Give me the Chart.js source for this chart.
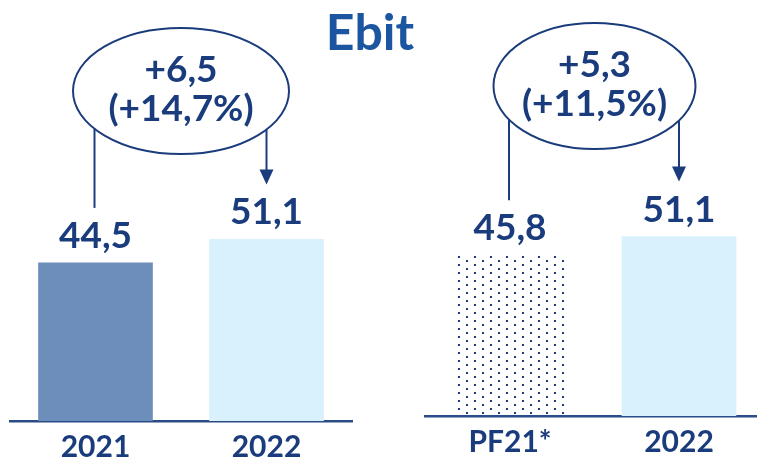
<!DOCTYPE html>
<html>
<head>
<meta charset="utf-8">
<script src="https://cdn.jsdelivr.net/npm/chart.js@4.4.0/dist/chart.umd.min.js"></script>
<style>
html, body { margin: 0; padding: 0; background: #fff; overflow: hidden; width: 757px; height: 461px; }
#wrap { position: relative; width: 757px; height: 461px; overflow: hidden; }
#title { position: absolute; left: 0; top: 1px; width: 740px; text-align: center; font: bold 50px Lato; color: #1c56a0; }
#left { position: absolute; left: 0; top: 0; }
#right { position: absolute; left: 378px; top: 0; }
</style>
</head>
<body>
<div id="wrap">
  <canvas id="left" width="378" height="461"></canvas>
  <canvas id="right" width="392" height="456"></canvas>
  <div id="title">Ebit</div>
</div>
<script>
// data
const leftLabels = ['2021', '2022']
const leftValues = [44.5, 51.1]
const leftDelta = ['+6,5', '(+14,7%)']
const rightLabels = ['PF21*', '2022']
const rightValues = [45.8, 51.1]
const rightDelta = ['+5,3', '(+11,5%)']

const navy = '#1b3c7c'
const steel = '#6d8dba'
const light = '#d9f0fd'

const fmt = v => v.toFixed(1).replace('.', ',')

// value labels + ellipse with the change
const bubble = {
    id: 'bubble',
    afterDatasetsDraw(chart, args, opts) {
        const ctx = chart.ctx
        const bars = chart.getDatasetMeta(0).data
        const values = chart.data.datasets[0].data
        ctx.save()
        ctx.fillStyle = navy
        ctx.strokeStyle = navy
        ctx.textAlign = 'center'
        ctx.textBaseline = 'middle'
        ctx.font = 'bold 37px Lato'
        bars.forEach((bar, i) => {
            ctx.fillText(fmt(values[i]), bar.x, bar.y - 27)
        })

        const a = bars[0], b = bars[1]
        const cx = (a.x + b.x) / 2
        const cy = opts.cy, rx = opts.rx, ry = 63
        ctx.lineWidth = 2
        ctx.beginPath()
        ctx.ellipse(cx, cy, rx, ry, 0, 0, Math.PI * 2)
        ctx.stroke()

        ctx.fillText(opts.text[0], cx, cy - 21)
        ctx.fillText(opts.text[1], cx, cy + 18)

        const edge = x => cy + ry * Math.sqrt(Math.max(0, 1 - ((x - cx) / rx) ** 2))
        const x1 = a.x - 1
        ctx.beginPath()
        ctx.moveTo(x1, edge(x1))
        ctx.lineTo(x1, a.y - 55)
        ctx.stroke()

        const x2 = b.x
        const tip = b.y - 55
        ctx.beginPath()
        ctx.moveTo(x2, edge(x2))
        ctx.lineTo(x2, tip - 12)
        ctx.stroke()
        ctx.beginPath()
        ctx.moveTo(x2 - 7, tip - 15)
        ctx.lineTo(x2 + 7, tip - 15)
        ctx.lineTo(x2, tip)
        ctx.closePath()
        ctx.fill()
        ctx.restore()
    }
}

function makeOptions(pad, bubbleOpts) {
    return {
        responsive: false,
        animation: false,
        layout: { padding: pad },
        plugins: {
            legend: { display: false },
            tooltip: { enabled: false },
            bubble: bubbleOpts
        },
        scales: {
            x: {
                grid: { display: false, drawTicks: false },
                border: { display: true, color: '#2b4a88', width: 2.5 },
                ticks: { color: navy, font: { family: 'Lato', size: 30, weight: 'bold' }, padding: 8 },
                afterFit: s => { s.height = 40 }
            },
            y: { display: false, min: 0, max: 118.5 }
        }
    }
}

new Chart(document.getElementById('left').getContext('2d'), {
    type: 'bar',
    data: {
        labels: leftLabels,
        datasets: [{
            data: leftValues,
            backgroundColor: [steel, light],
            barThickness: 114
        }]
    },
    options: makeOptions({ left: 10, right: 26, top: 0 }, { cy: 91, rx: 108, text: leftDelta }),
    plugins: [bubble]
})

const rctx = document.getElementById('right').getContext('2d')
const tile = document.createElement('canvas')
tile.width = 16
tile.height = 8
const t = tile.getContext('2d')
t.fillStyle = navy
t.fillRect(0, 0, 2, 2)
t.fillRect(8, 4, 2, 2)
const dots = rctx.createPattern(tile, 'repeat')

new Chart(rctx, {
    type: 'bar',
    data: {
        labels: rightLabels,
        datasets: [{
            data: rightValues,
            backgroundColor: [dots, light],
            barThickness: 114
        }]
    },
    options: makeOptions({ left: 47.5, right: 6.5, top: 0 }, { cy: 86, rx: 101, text: rightDelta }),
    plugins: [bubble]
})
</script>
</body>
</html>
